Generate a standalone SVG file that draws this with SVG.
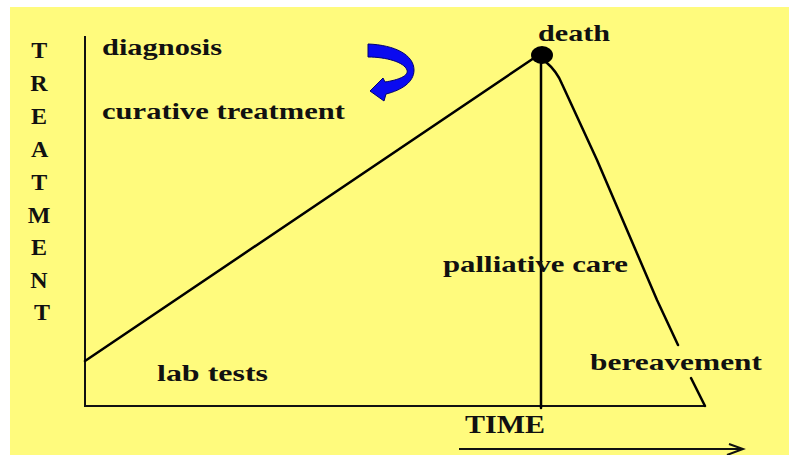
<svg xmlns="http://www.w3.org/2000/svg" width="789" height="455" viewBox="0 0 789 455">
<style>
.lbl{font-family:"Liberation Serif","Times New Roman",serif;font-weight:bold;fill:#111;}
.ax{stroke:#111;stroke-width:2;fill:none;}
.ln{stroke:#000;stroke-width:2.5;fill:none;stroke-linejoin:round;stroke-linecap:round;}
</style>
<rect x="0" y="0" width="789" height="455" fill="#ffffff"/>
<rect x="10" y="7" width="779" height="448" fill="#fffb7d"/>
<g id="axes">
<path class="ax" d="M85,36 L85,406 L705,406"/>
</g>
<g id="connectors">
<path class="ln" d="M85,361 L534,58"/>
<path class="ln" d="M541,58 L541,408" stroke-width="3.2"/>
<path class="ln" d="M546,62 C553,68 558,74 562,84 L597,160 L627,230 L657,300 L678,345"/>
<path class="ln" d="M691,378 L705,406"/>
<path d="M459,449 L742,449 M729,444 L743,449 L727,455" stroke="#111" stroke-width="2" fill="none"/>
</g>
<g id="death-dot">
<ellipse cx="542" cy="55" rx="11" ry="9" fill="#000"/>
</g>
<g id="axis-label-y">
<text class="lbl" font-size="24" text-anchor="middle">
<tspan x="42" y="58">T</tspan>
<tspan x="42" y="91">R</tspan>
<tspan x="42" y="124">E</tspan>
<tspan x="42" y="157">A</tspan>
<tspan x="42" y="190">T</tspan>
<tspan x="42" y="223">M</tspan>
<tspan x="42" y="255">E</tspan>
<tspan x="42" y="288">N</tspan>
<tspan x="42" y="320">T</tspan>
</text>
</g>
<g id="diagnosis"><text class="lbl" font-size="23" x="102" y="55" textLength="120" lengthAdjust="spacingAndGlyphs">diagnosis</text></g>
<g id="curative"><text class="lbl" font-size="23" x="102" y="119" textLength="243" lengthAdjust="spacingAndGlyphs">curative treatment</text></g>
<g id="death"><text class="lbl" font-size="24" x="538" y="41" textLength="72" lengthAdjust="spacingAndGlyphs">death</text></g>
<g id="palliative"><text class="lbl" font-size="23" x="443" y="272" textLength="185" lengthAdjust="spacingAndGlyphs">palliative care</text></g>
<g id="labtests"><text class="lbl" font-size="23" x="157" y="381" textLength="111" lengthAdjust="spacingAndGlyphs">lab tests</text></g>
<g id="bereavement"><text class="lbl" font-size="23" x="590" y="370" textLength="172" lengthAdjust="spacingAndGlyphs">bereavement</text></g>
<g id="time"><text class="lbl" font-size="26" x="465" y="433" textLength="80" lengthAdjust="spacingAndGlyphs">TIME</text></g>
<g id="cycle-arrow">
<path d="M368,44 L368,57 C386,57 404,62 407,70 C409,76 398,80 385,82 L383,78 L370,91 L384,101 L386,94 C402,90 414,82 414,70 C414,55 395,45 368,44 Z" fill="#0a0af0" stroke="#000070" stroke-width="1"/>
</g>
</svg>
